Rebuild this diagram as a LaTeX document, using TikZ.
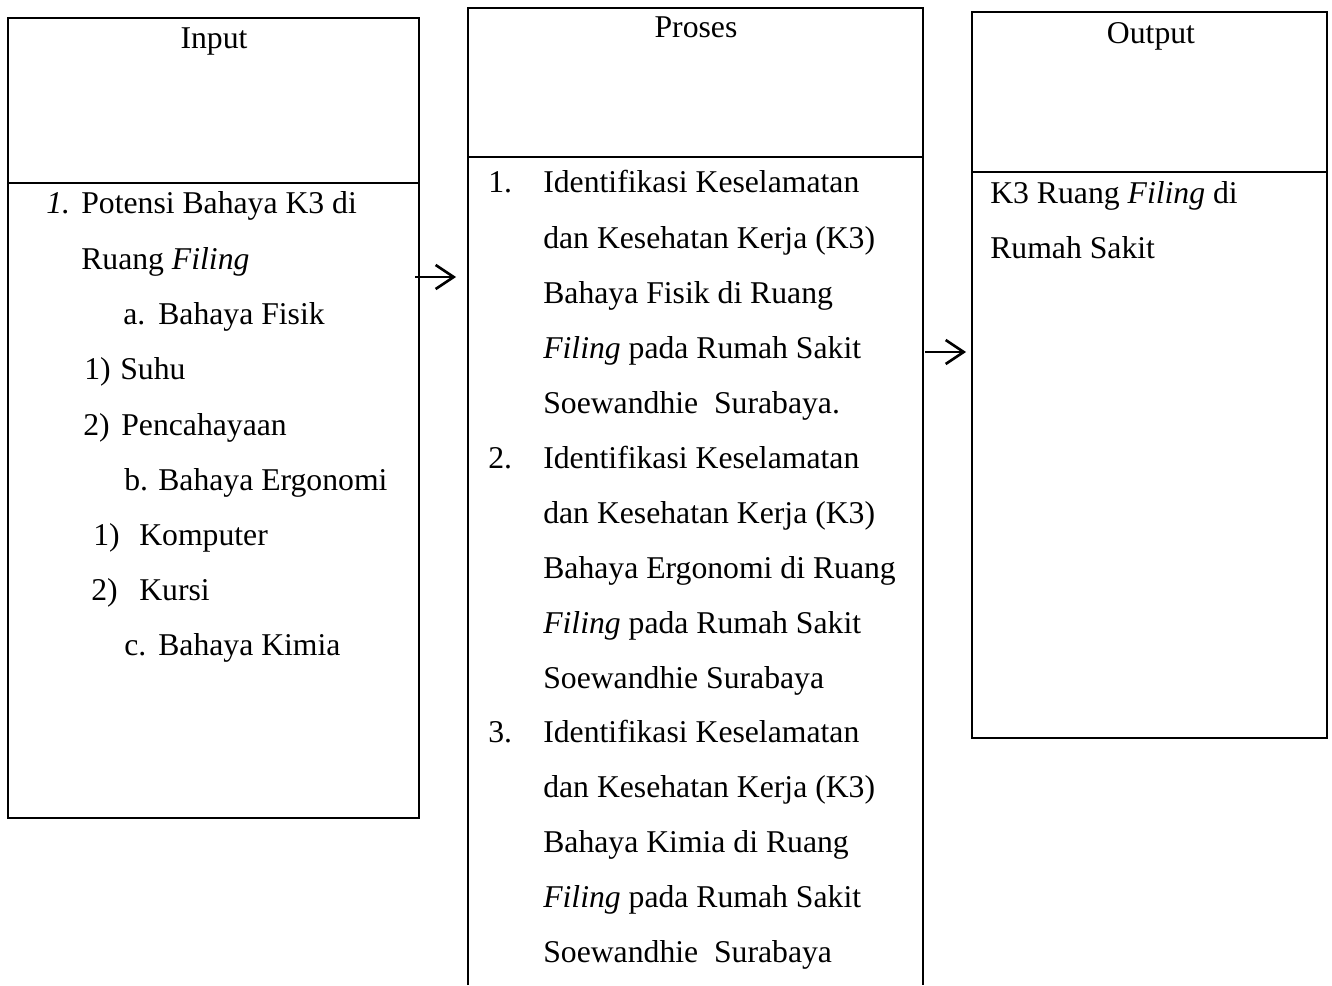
\documentclass[tikz,border=0pt]{standalone}
\usepackage{fontspec}
\setmainfont{Liberation Serif}
\usepackage{tikz}
\usetikzlibrary{arrows.meta}
\tikzset{>={Straight Barb[length=9pt,width=12pt]}}

\begin{document}
\begin{tikzpicture}[x=0.5pt,y=-0.5pt,line width=1.3pt,
	txt/.style={anchor=base west,inner sep=0pt,font=\fontsize{15.85}{27.5}\selectfont},
	head/.style={anchor=base,inner sep=0pt,font=\fontsize{15.85}{27.5}\selectfont}]
	\useasboundingbox (0,0) rectangle (1332,985);
	% kotak input, proses, output
	\draw (8,18) rectangle (419,818);
	\draw (8,183) -- (419,183);
	\draw (468,985) -- (468,8) -- (923,8) -- (923,985);
	\draw (468,157) -- (923,157);
	\draw (972,12) rectangle (1327,738);
	\draw (972,172) -- (1327,172);
	\node[head] (input) at (214,48) {Input};
	\node[head] (proses) at (696,37) {Proses};
	\node[head] (output) at (1151,43) {Output};
	% isi input
	\node[txt] (in1no) at (45,213) {\textit{1.}};
	\node[txt] (in1a) at (80,213) {Potensi Bahaya K3 di};
	\node[txt] (in1b) at (80,269) {Ruang \textit{Filing}};
	\node[txt] (fisikno) at (122,324) {a.};
	\node[txt] (fisik) at (157,324) {Bahaya Fisik};
	\node[txt] (suhuno) at (83,379) {1)};
	\node[txt] (suhu) at (119,379) {Suhu};
	\node[txt] (cahayano) at (82,435) {2)};
	\node[txt] (cahaya) at (120,435) {Pencahayaan};
	\node[txt] (ergono) at (123,490) {b.};
	\node[txt] (ergo) at (157,490) {Bahaya Ergonomi};
	\node[txt] (kompno) at (92,545) {1)};
	\node[txt] (komp) at (138,545) {Komputer};
	\node[txt] (kursino) at (90,600) {2)};
	\node[txt] (kursi) at (138,600) {Kursi};
	\node[txt] (kimiano) at (123,655) {c.};
	\node[txt] (kimia) at (157,655) {Bahaya Kimia};
	% isi proses
	\node[txt] (pr1no) at (487,192) {1.};
	\node[txt] (pr1a) at (542,192) {Identifikasi Keselamatan};
	\node[txt] (pr1b) at (542,248) {dan Kesehatan Kerja (K3)};
	\node[txt] (pr1c) at (542,303) {Bahaya Fisik di Ruang};
	\node[txt] (pr1d) at (542,358) {\textit{Filing} pada Rumah Sakit};
	\node[txt] (pr1e) at (542,413) {Soewandhie\ \ Surabaya.};
	\node[txt] (pr2no) at (487,468) {2.};
	\node[txt] (pr2a) at (542,468) {Identifikasi Keselamatan};
	\node[txt] (pr2b) at (542,523) {dan Kesehatan Kerja (K3)};
	\node[txt] (pr2c) at (542,578) {Bahaya Ergonomi di Ruang};
	\node[txt] (pr2d) at (542,633) {\textit{Filing} pada Rumah Sakit};
	\node[txt] (pr2e) at (542,688) {Soewandhie Surabaya};
	\node[txt] (pr3no) at (487,742) {3.};
	\node[txt] (pr3a) at (542,742) {Identifikasi Keselamatan};
	\node[txt] (pr3b) at (542,797) {dan Kesehatan Kerja (K3)};
	\node[txt] (pr3c) at (542,852) {Bahaya Kimia di Ruang};
	\node[txt] (pr3d) at (542,907) {\textit{Filing} pada Rumah Sakit};
	\node[txt] (pr3e) at (542,962) {Soewandhie\ \ Surabaya};
	% isi output
	\node[txt] (out1) at (989,203) {K3 Ruang \textit{Filing} di};
	\node[txt] (out2) at (989,258) {Rumah Sakit};
	% panah
	\coordinate (ar1a) at (415,277);
	\coordinate (ar1b) at (456,277);
	\coordinate (ar2a) at (925,352);
	\coordinate (ar2b) at (966,352);
	\draw[->] (ar1a)--(ar1b);
	\draw[->] (ar2a)--(ar2b);
\end{tikzpicture}
\end{document}
